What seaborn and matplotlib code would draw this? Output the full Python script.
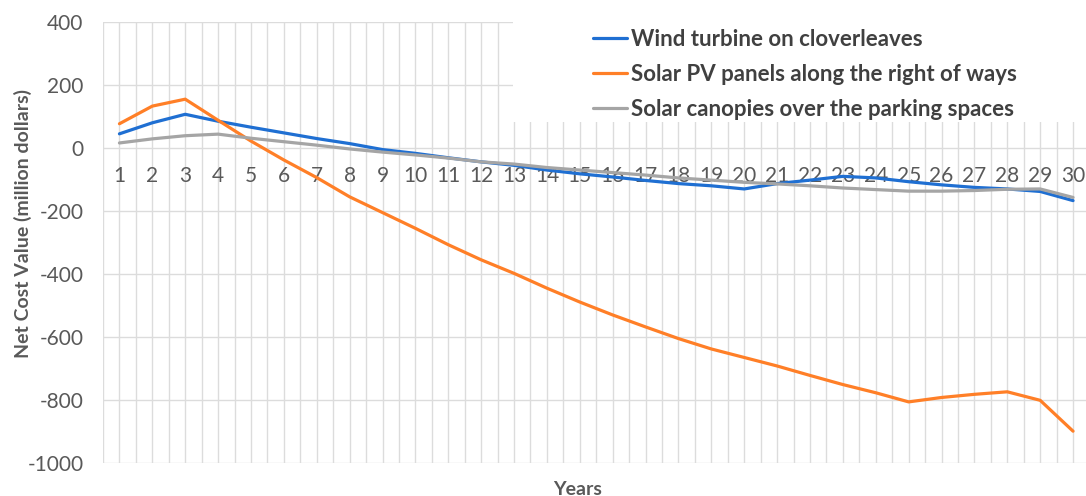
import matplotlib
matplotlib.use("Agg")
import matplotlib.pyplot as plt
from matplotlib.patches import Rectangle
import numpy as np
import pandas as pd
import seaborn as sns

# Net cost value per year (million dollars)
years = list(range(1, 31))
wind_cloverleaves = [45, 80, 107, 85, 66, 48, 30, 14, -5, -17, -31, -44, -55, -70, -82, -92,
                     -103, -113, -120, -130, -113, -102, -90, -95, -107, -117, -125, -130,
                     -138, -167]
solar_right_of_ways = [77, 133, 155, 88, 22, -38, -94, -155, -205, -255, -307, -355, -398,
                       -445, -489, -530, -568, -605, -638, -665, -692, -722, -751, -777,
                       -806, -792, -782, -774, -801, -899]
solar_canopies = [16, 29, 39, 44, 31, 20, 9, -3, -13, -22, -32, -44, -51, -62, -70, -78,
                  -86, -95, -102, -109, -114, -120, -127, -132, -137, -137, -135, -131,
                  -130, -157]

series_names = ["Wind turbine on cloverleaves",
                "Solar PV panels along the right of ways",
                "Solar canopies over the parking spaces"]
series_colors = ["#1F6FD2", "#FF7F27", "#A5A5A5"]

df = pd.DataFrame({
    "Year": years * 3,
    "Value": wind_cloverleaves + solar_right_of_ways + solar_canopies,
    "Option": [series_names[0]] * 30 + [series_names[1]] * 30 + [series_names[2]] * 30,
})

sns.set_theme(style="white")
plt.rcParams["font.family"] = ["Lato", "DejaVu Sans"]
plt.rcParams["axes.unicode_minus"] = False

text_color = "#595959"
grid_color = "#DCDCDC"

fig = plt.figure(figsize=(10.86, 4.96), dpi=100)
ax = fig.add_axes([103 / 1086, 1 - 463 / 496, 986.5 / 1086, (463 - 22) / 496])

sns.lineplot(data=df, x="Year", y="Value", hue="Option", hue_order=series_names,
             palette=series_colors, linewidth=2.3, ax=ax, legend=True, zorder=3)

ax.set_xlim(0.5, 30.5)
ax.set_ylim(-1000, 400)
ax.set_yticks(np.arange(-1000, 401, 200))
ax.set_xticks(years)
ax.set_xticks(np.arange(0.5, 31, 1), minor=True)
ax.set_xticklabels([str(y) for y in years])

ax.set_axisbelow(True)
ax.grid(True, which="major", axis="both", color=grid_color, linewidth=1)
ax.grid(True, which="minor", axis="x", color=grid_color, linewidth=1)

for side in ["top", "right", "left", "bottom"]:
    ax.spines[side].set_visible(False)
ax.spines["bottom"].set_position(("data", 0))

ax.tick_params(axis="x", which="both", length=0, pad=13, labelsize=15, labelcolor=text_color)
ax.tick_params(axis="y", which="both", length=0, pad=14, labelsize=15, labelcolor=text_color)

ax.set_xlabel("Years", fontsize=14, fontweight="bold", color=text_color)
ax.set_ylabel("Net Cost Value (million dollars)", fontsize=14, fontweight="bold",
              color=text_color)
ax.xaxis.set_label_coords((578 - 103) / 986.5, (463 - 481) / 441)
ax.yaxis.set_label_coords((32 - 103) / 986.5, (463 - 223) / 441)

# white panel behind the legend, covering the grid
ax.add_patch(Rectangle(((513 - 103) / 986.5, (463 - 122) / 441), 1.0, 1.0,
                       transform=ax.transAxes, facecolor="white", edgecolor="none",
                       zorder=1.5, clip_on=False))

handles, labels = ax.get_legend_handles_labels()
leg = ax.legend(handles, labels, loc="upper left",
                bbox_to_anchor=(593 / 1086, 1 - 29 / 496), bbox_transform=fig.transFigure,
                frameon=False, fontsize=16, handlelength=1.55, handletextpad=0.15,
                labelspacing=0.62, borderpad=0, borderaxespad=0)
for t in leg.get_texts():
    t.set_fontweight("bold")
    t.set_color("#404040")

fig.savefig("out.png", dpi=100)
